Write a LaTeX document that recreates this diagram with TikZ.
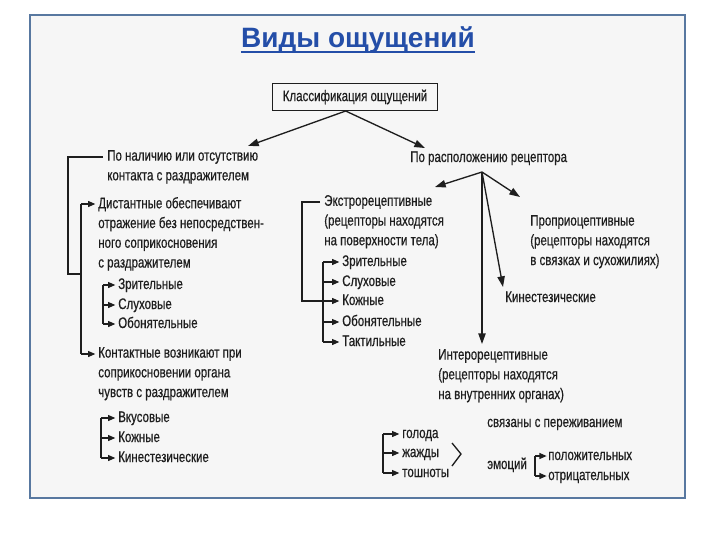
\documentclass[tikz,border=0pt]{standalone}
\usepackage{fontspec}
\setmainfont{Liberation Sans}[FakeStretch=0.75, FakeBold=0.5]
\newfontfamily\titlefont{Liberation Sans}
\usepackage{xcolor}
\usetikzlibrary{arrows.meta, positioning, calc}

\definecolor{framecol}{RGB}{88,120,160}
\definecolor{titleblue}{RGB}{36,78,168}
\definecolor{ink}{RGB}{30,30,30}
\definecolor{paper}{RGB}{246,246,246}

\tikzset{
  txt/.style={anchor=base west, inner sep=0pt, align=left, text=ink,
    font=\fontsize{11.5}{14.8}\selectfont},
  txtm/.style={txt, anchor=north west},
  clsbox/.style={draw=ink, line width=1pt, inner sep=2pt, minimum width=124pt,
    minimum height=20pt, text=ink, font=\fontsize{11.5}{14.8}\selectfont},
  titlestyle/.style={anchor=base, inner sep=0pt, text=titleblue,
    font=\titlefont\bfseries\fontsize{21}{24}\selectfont},
  wire/.style={draw=ink, line width=1pt},
  bigarr/.style={wire, -{Triangle[length=8pt,width=5.5pt]}},
  arr/.style={wire, -{Triangle[length=5.5pt,width=4.5pt]}},
}

\begin{document}
\begin{tikzpicture}[x=0.75pt,y=-0.75pt]
  \useasboundingbox (0,0) rectangle (720,540);
  \draw[framecol, line width=1.6pt, fill=paper] (30,15) rectangle (685,498);

  % title
  \node[titlestyle] (title) at (358,47) {Виды ощущений};
  \draw[titleblue, line width=1.5pt] ([yshift=-3.5pt]title.base west) -- ([yshift=-3.5pt]title.base east);

  % top box
  \node[clsbox] (cls) at (355,97) {Классификация ощущений};

  % left branch
  \node[txtm] (nal) at (107,149.8) {По наличию или отсутствию\\контакта с раздражителем};
  \node[txtm] (dist) at (98,196.8) {Дистантные обеспечивают\\отражение без непосредствен-\\ного соприкосновения\\с раздражителем};
  \node[txt] (dsee) at (118,289) {Зрительные};
  \node[txt] (dhear) at (118,309) {Слуховые};
  \node[txt] (dsmell) at (118,328) {Обонятельные};
  \node[txtm] (kont) at (98,346.8) {Контактные возникают при\\соприкосновении органа\\чувств с раздражителем};
  \node[txt] (ktaste) at (118,422) {Вкусовые};
  \node[txt] (kskin) at (118,442) {Кожные};
  \node[txt] (kkin) at (118,462) {Кинестезические};

  % right branch
  \node[txt] (pos) at (410,162) {По расположению рецептора};
  \node[txtm] (ext) at (324,194.8) {Экстрорецептивные\\(рецепторы находятся\\на поверхности тела)};
  \node[txt] (esee) at (342,266) {Зрительные};
  \node[txt] (ehear) at (342,286) {Слуховые};
  \node[txt] (eskin) at (342,305) {Кожные};
  \node[txt] (esmell) at (342,326) {Обонятельные};
  \node[txt] (etact) at (342,346) {Тактильные};
  \node[txtm] (prop) at (530,214.8) {Проприоцептивные\\(рецепторы находятся\\в связках и сухожилиях)};
  \node[txt] (kin) at (505,302) {Кинестезические};
  \node[txtm] (intr) at (438,348.8) {Интерорецептивные\\(рецепторы находятся\\на внутренних органах)};
  \node[txt] (assoc) at (487,427) {связаны с переживанием};
  \node[txt] (hung) at (402,438) {голода};
  \node[txt] (thirst) at (402,457) {жажды};
  \node[txt] (naus) at (402,477) {тошноты};
  \node[txt] (emo) at (487,469) {эмоций};
  \node[txt] (posit) at (548,460) {положительных};
  \node[txt] (negat) at (548,480) {отрицательных};

  % line centres
  \foreach \n in {dsee,dhear,dsmell,ktaste,kskin,kkin,esee,ehear,eskin,esmell,etact,hung,thirst,naus,posit,negat}
    \coordinate (c\n) at ([yshift=3pt]\n.base west);
  \foreach \n in {nal,dist,kont,ext}
    \coordinate (c\n) at ([yshift=-5.4pt]\n.north west);

  % main arrows
  \coordinate (tN) at (248,146);
  \coordinate (tR) at (425,148);
  \draw[bigarr] ([xshift=-7pt]cls.south) -- (tN);
  \draw[bigarr] ([xshift=-7pt]cls.south) -- (tR);

  % left brackets
  \coordinate (lx0) at (68,274);
  \coordinate (lx1) at (81,274);
  \draw[wire] ([xshift=-3pt]cnal) -| (lx0) -- (lx1);
  \draw[wire] (cdist -| lx1) -- (ckont -| lx1);
  \foreach \n in {dist,kont} \draw[arr] (c\n -| lx1) -- ([xshift=-2pt]c\n);
  \coordinate (lx2) at (103,0);
  \draw[wire] (cdsee -| lx2) -- (cdsmell -| lx2);
  \foreach \n in {dsee,dhear,dsmell} \draw[arr] (c\n -| lx2) -- ([xshift=-2pt]c\n);
  \coordinate (lx3) at (101,0);
  \draw[wire] (cktaste -| lx3) -- (ckkin -| lx3);
  \foreach \n in {ktaste,kskin,kkin} \draw[arr] (c\n -| lx3) -- ([xshift=-2pt]c\n);

  % receptor arrows
  \coordinate (po) at (482,172);
  \coordinate (tE) at (435,187);
  \coordinate (tP) at (520,197);
  \coordinate (tK) at (503,287);
  \coordinate (tI) at (482,344);
  \foreach \t in {tE,tP,tK,tI} \draw[bigarr] (po) -- (\t);

  % extero bracket
  \coordinate (rx0) at (302,0);
  \coordinate (rx1) at (323,0);
  \draw[wire] ([xshift=-3pt]cext) -| (ceskin -| rx0) -- (ceskin -| rx1);
  \draw[wire] (cesee -| rx1) -- (cetact -| rx1);
  \foreach \n in {esee,ehear,eskin,esmell,etact} \draw[arr] (c\n -| rx1) -- ([xshift=-2pt]c\n);

  % intero part
  \coordinate (bx3) at (383,0);
  \draw[wire] (chung -| bx3) -- (cnaus -| bx3);
  \foreach \n in {hung,thirst,naus} \draw[arr] (c\n -| bx3) -- ([xshift=-2pt]c\n);
  \draw[wire] (452,443) -- (461,454) -- (452,466);
  \coordinate (bx4) at (535,0);
  \draw[wire] (cposit -| bx4) -- (cnegat -| bx4);
  \foreach \n in {posit,negat} \draw[arr] (c\n -| bx4) -- ([xshift=-1pt]c\n);
\end{tikzpicture}
\end{document}
